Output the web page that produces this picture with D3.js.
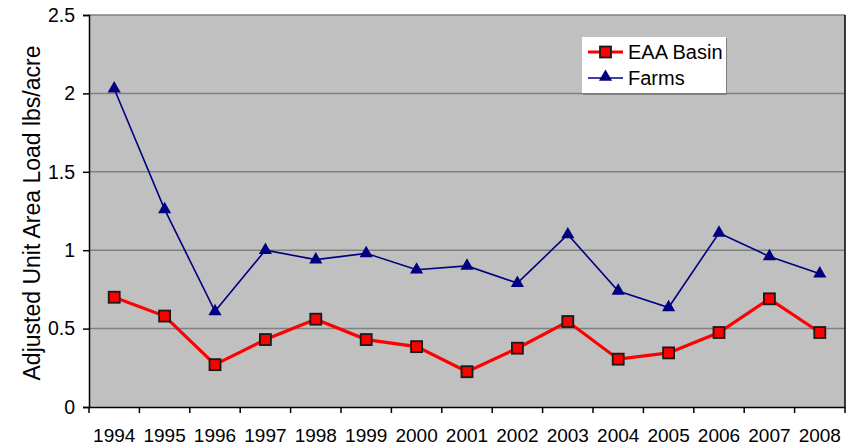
<!DOCTYPE html>
<html>
<head>
<meta charset="utf-8">
<script src="https://cdn.jsdelivr.net/npm/d3@7"></script>
<style>
  body { margin: 0; background: #fff; }
  text { font-family: "Liberation Sans", Arial, sans-serif; fill: #000; }
</style>
</head>
<body>
<script>
// Datos
const years = ['1994', '1995', '1996', '1997', '1998', '1999', '2000', '2001', '2002', '2003', '2004', '2005', '2006', '2007', '2008'];
const eaaBasin = [0.70, 0.58, 0.27, 0.43, 0.56, 0.43, 0.385, 0.225, 0.375, 0.545, 0.305, 0.345, 0.475, 0.69, 0.475];
const farms = [2.03, 1.26, 0.61, 1.00, 0.94, 0.98, 0.875, 0.90, 0.79, 1.10, 0.74, 0.635, 1.11, 0.96, 0.85];
const yTicks = [0, 0.5, 1, 1.5, 2, 2.5];
const yLabel = 'Adjusted Unit Area Load lbs/acre';

const width = 854, height = 447;
const margin = { top: 15, right: 9, bottom: 40, left: 89 };

const svg = d3.select('body').append('svg')
  .attr('width', width)
  .attr('height', height);

const x = d3.scaleBand().domain(years).range([margin.left, width - margin.right]);
const y = d3.scaleLinear().domain([0, 2.5]).range([height - margin.bottom, margin.top]);

// Fondo del área de trazado
svg.append('rect')
  .attr('x', margin.left).attr('y', margin.top)
  .attr('width', x.range()[1] - margin.left)
  .attr('height', y(0) - margin.top)
  .attr('fill', '#c0c0c0');

// Líneas de cuadrícula
svg.append('g').selectAll('line').data(yTicks.filter(d => d > 0)).join('line')
  .attr('x1', margin.left).attr('x2', x.range()[1])
  .attr('y1', d => y(d)).attr('y2', d => y(d))
  .attr('stroke', '#808080').attr('stroke-width', 1.5);

// Borde derecho
svg.append('line')
  .attr('x1', x.range()[1]).attr('x2', x.range()[1])
  .attr('y1', margin.top).attr('y2', y(0))
  .attr('stroke', '#000').attr('stroke-width', 1.5);

// Ejes
const yAxis = svg.append('g')
  .attr('transform', `translate(${margin.left},0)`)
  .call(d3.axisLeft(y).tickValues(yTicks).tickFormat(d => d).tickSize(6).tickPadding(8));
yAxis.select('.domain').attr('stroke-width', 1.5);
yAxis.selectAll('.tick line').attr('stroke-width', 1.5);
yAxis.selectAll('text').style('font-size', '19.5px').attr('fill', '#000');

const xAxis = svg.append('g')
  .attr('transform', `translate(0,${y(0)})`)
  .call(d3.axisBottom(x).tickSize(0).tickPadding(22));
xAxis.select('.domain').attr('stroke-width', 1.5);
xAxis.selectAll('text').style('font-size', '19px').attr('fill', '#000');

// Marcas entre categorías
svg.append('g').selectAll('line').data(years.concat([null])).join('line')
  .attr('x1', (d, i) => margin.left + i * x.step())
  .attr('x2', (d, i) => margin.left + i * x.step())
  .attr('y1', y(0)).attr('y2', y(0) + 6)
  .attr('stroke', '#000').attr('stroke-width', 1.5);

// Título del eje Y
svg.append('text')
  .attr('transform', `translate(40,${(margin.top + y(0)) / 2 + 2}) rotate(-90)`)
  .attr('text-anchor', 'middle')
  .style('font-size', '23px')
  .text(yLabel);

const cx = d => x(d) + x.bandwidth() / 2;
const line = d3.line().x(d => cx(d[0])).y(d => y(d[1]));

// Serie Farms
svg.append('path')
  .datum(years.map((yr, i) => [yr, farms[i]]))
  .attr('d', line).attr('fill', 'none')
  .attr('stroke', '#000080').attr('stroke-width', 1.6);

const triangle = d3.symbol().type(d3.symbolTriangle).size(75);
svg.append('g').selectAll('path').data(years.map((yr, i) => [yr, farms[i]])).join('path')
  .attr('d', triangle)
  .attr('transform', d => `translate(${cx(d[0])},${y(d[1])})`)
  .attr('fill', '#000080');

// Serie EAA Basin
svg.append('path')
  .datum(years.map((yr, i) => [yr, eaaBasin[i]]))
  .attr('d', line).attr('fill', 'none')
  .attr('stroke', '#ff0000').attr('stroke-width', 3.2);

svg.append('g').selectAll('rect').data(years.map((yr, i) => [yr, eaaBasin[i]])).join('rect')
  .attr('x', d => cx(d[0]) - 5.5).attr('y', d => y(d[1]) - 5.5)
  .attr('width', 11).attr('height', 11)
  .attr('fill', '#ff0000').attr('stroke', '#1a1a1a').attr('stroke-width', 1.8);

// Leyenda
const legend = svg.append('g').attr('transform', 'translate(582,37)');
legend.append('rect').attr('x', 1).attr('y', 1).attr('width', 144).attr('height', 57).attr('fill', '#808080');
legend.append('rect').attr('width', 144).attr('height', 56).attr('fill', '#fff');

legend.append('line').attr('x1', 6).attr('x2', 41).attr('y1', 15).attr('y2', 15)
  .attr('stroke', '#ff0000').attr('stroke-width', 3.2);
legend.append('rect').attr('x', 18).attr('y', 9.5).attr('width', 11).attr('height', 11)
  .attr('fill', '#ff0000').attr('stroke', '#1a1a1a').attr('stroke-width', 1.8);
legend.append('text').attr('x', 46).attr('y', 22).style('font-size', '20px').text('EAA Basin');

legend.append('line').attr('x1', 6).attr('x2', 41).attr('y1', 41).attr('y2', 41)
  .attr('stroke', '#000080').attr('stroke-width', 1.6);
legend.append('path').attr('d', triangle).attr('transform', 'translate(23.5,40)').attr('fill', '#000080');
legend.append('text').attr('x', 46).attr('y', 48).style('font-size', '20px').text('Farms');
</script>
</body>
</html>
